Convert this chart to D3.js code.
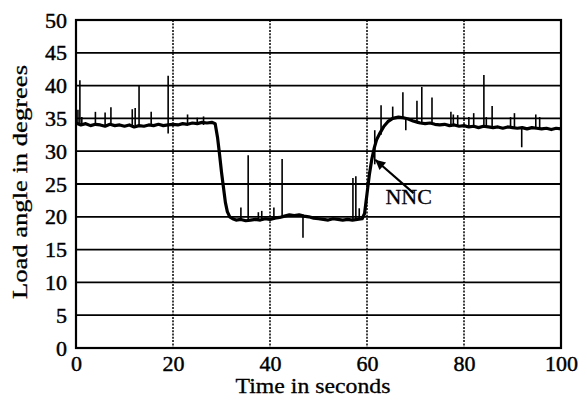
<!DOCTYPE html>
<html>
<head>
<meta charset="utf-8">
<script src="https://cdn.jsdelivr.net/npm/d3@7"></script>
<style>
  html, body { margin: 0; padding: 0; background: #fff; }
  svg { display: block; }
  text { font-family: "Liberation Serif", "Times New Roman", serif; fill: #000; }
</style>
</head>
<body>
<svg id="chart" width="587" height="400"></svg>
<script>
// ---- data ----
const xTicks = [0, 20, 40, 60, 80, 100];
const yTicks = [0, 5, 10, 15, 20, 25, 30, 35, 40, 45, 50];
const xLabel = "Time in seconds";
const yLabel = "Load angle in degrees";
const annotationText = "NNC";

// base trace: time (s) and load angle (deg)
const time = [
  0,1,2,3,4,5,6,7,8,9,10,11,12,13,14,15,16,17,18,19,20,21,22,23,24,25,26,27,28,
  28.7,29.2,29.6,30.0,30.4,30.8,31.2,31.7,32.3,33,
  34,35,36,37,38,39,40,41,42,43,44,45,46,47,48,49,50,51,52,53,54,55,56,57,58,59,
  59.5,60.0,60.5,61.0,61.5,62.0,62.7,63.5,64.3,65.3,66.5,67.5,68.5,69.5,70.5,
  71,72,73,74,75,76,77,78,79,80,81,82,83,84,85,86,87,88,89,90,91,92,93,94,95,96,97,98,99,100
];
const angle = [
  34.3,34.0,34.2,33.9,34.1,34.0,33.8,34.1,33.9,34.0,33.8,34.0,33.7,33.9,33.8,34.0,33.9,34.1,33.9,34.0,34.1,34.0,34.2,34.1,34.3,34.2,34.4,34.3,34.4,
  34.2,32.0,29.5,26.8,24.5,22.2,20.8,20.0,19.7,19.5,
  19.6,19.4,19.5,19.6,19.5,19.7,19.6,19.8,19.9,20.1,20.3,20.2,20.3,20.1,20.0,19.8,19.7,19.6,19.5,19.7,19.6,19.5,19.6,19.5,19.6,19.7,
  20.5,23.5,26.5,28.8,30.5,31.8,32.8,33.8,34.5,35.0,35.2,35.1,34.9,34.6,34.4,
  34.3,34.2,34.3,34.1,34.0,34.1,33.9,34.0,33.8,33.9,33.7,33.8,33.6,33.8,33.7,33.6,33.7,33.5,33.7,33.6,33.5,33.6,33.4,33.6,33.5,33.4,33.5,33.3,33.5,33.4
];

// short transient spikes: time, low end, high end
const spikeTime = [0.4,0.8,1.2,4.0,6.0,7.2,11.6,12.2,13.0,15.5,19.0,23.0,25.0,26.3,
  34.0,35.5,37.6,38.3,40.8,42.5,46.8,57.1,57.7,58.4,
  61.6,62.9,65.3,67.4,68.0,70.3,71.3,73.4,77.3,77.8,78.7,81.0,82.0,84.1,84.6,85.8,89.6,90.4,91.9,94.8,95.6];
const spikeLow = [34,34,34,34,34,34,34,34,34,34,32.7,34,34,34,
  19.5,19.5,19.5,19.5,19.5,19.8,16.8,19.6,19.6,19.6,
  28.0,32.5,34.8,35.0,33.2,34.4,34.3,34.2,33.9,33.9,33.9,33.7,33.7,33.8,33.8,33.6,33.6,33.6,30.6,33.5,33.4];
const spikeHigh = [36.3,40.8,35.2,36.0,35.9,36.7,36.4,36.6,40.0,36.0,41.5,35.6,35.1,35.3,
  21.4,29.4,20.7,20.9,21.4,28.8,20.3,25.9,26.2,21.3,
  33.2,37.0,36.8,39.0,35.0,37.7,39.8,38.2,36.0,35.6,35.5,35.2,35.8,41.6,35.2,36.9,35.2,35.8,33.5,35.6,35.2];

// annotation arrow: tail and head in data units
const arrowTail = [69.6, 23.6];
const arrowHead = [61.7, 28.7];
const annotationPos = [63.8, 21.9];

// ---- chart ----
const svg = d3.select("#chart");
const L = 76, R = 561, T = 20, B = 348;
const x = d3.scaleLinear().domain([0, 100]).range([L, R]);
const y = d3.scaleLinear().domain([0, 50]).range([B, T]);

// horizontal grid
svg.append("g").selectAll("line").data(yTicks.filter(v => v > 0 && v < 50)).join("line")
  .attr("x1", L).attr("x2", R).attr("y1", d => y(d)).attr("y2", d => y(d))
  .attr("stroke", "#000").attr("stroke-width", 1.8);
// vertical grid (dotted)
svg.append("g").selectAll("line").data(xTicks.filter(v => v > 0 && v < 100)).join("line")
  .attr("y1", T).attr("y2", B).attr("x1", d => x(d)).attr("x2", d => x(d))
  .attr("stroke", "#000").attr("stroke-width", 1.5).attr("stroke-dasharray", "2,1.3");

// frame
svg.append("rect").attr("x", L).attr("y", T).attr("width", R - L).attr("height", B - T)
  .attr("fill", "none").attr("stroke", "#000").attr("stroke-width", 2.2);

// axes (labels only)
const xAxis = d3.axisBottom(x).tickValues(xTicks).tickSize(0).tickPadding(7);
const gx = svg.append("g").attr("transform", `translate(0,${B})`).call(xAxis);
gx.select(".domain").remove();
gx.selectAll("text").attr("font-size", 22).attr("font-family", "Liberation Serif")
  .attr("stroke", "#000").attr("stroke-width", 0.45);

const yAxis = d3.axisLeft(y).tickValues(yTicks).tickSize(0).tickPadding(9);
const gy = svg.append("g").attr("transform", `translate(${L},0)`).call(yAxis);
gy.select(".domain").remove();
gy.selectAll("text").attr("font-size", 22).attr("font-family", "Liberation Serif")
  .attr("stroke", "#000").attr("stroke-width", 0.45);

// axis titles
svg.append("text").attr("x", 313).attr("y", 393).attr("text-anchor", "middle")
  .attr("font-size", 21).attr("textLength", 155).attr("lengthAdjust", "spacingAndGlyphs")
  .attr("stroke", "#000").attr("stroke-width", 0.3).text(xLabel);
svg.append("text").attr("transform", `translate(27,182) rotate(-90)`)
  .attr("text-anchor", "middle").attr("font-size", 22)
  .attr("textLength", 234).attr("lengthAdjust", "spacingAndGlyphs")
  .attr("stroke", "#000").attr("stroke-width", 0.3).text(yLabel);

// spikes
svg.append("g").selectAll("line").data(spikeTime.map((t, i) => [t, spikeLow[i], spikeHigh[i]])).join("line")
  .attr("x1", d => x(d[0])).attr("x2", d => x(d[0]))
  .attr("y1", d => y(d[1])).attr("y2", d => y(d[2]))
  .attr("stroke", "#000").attr("stroke-width", 1.6);

// main trace
const line = d3.line().x(d => x(d[0])).y(d => y(d[1]));
svg.append("path").datum(time.map((t, i) => [t, angle[i]]))
  .attr("d", line).attr("fill", "none").attr("stroke", "#000")
  .attr("stroke-width", 3.2).attr("stroke-linejoin", "round");

// annotation arrow
svg.append("defs").append("marker").attr("id", "ah")
  .attr("viewBox", "0 0 10 10").attr("refX", 10).attr("refY", 5)
  .attr("markerWidth", 13).attr("markerHeight", 10).attr("markerUnits", "userSpaceOnUse")
  .attr("orient", "auto")
  .append("path").attr("d", "M0,0 L10,5 L0,10 z").attr("fill", "#000");
svg.append("line")
  .attr("x1", x(arrowTail[0])).attr("y1", y(arrowTail[1]))
  .attr("x2", x(arrowHead[0])).attr("y2", y(arrowHead[1]))
  .attr("stroke", "#000").attr("stroke-width", 2.2).attr("marker-end", "url(#ah)");
svg.append("text").attr("x", x(annotationPos[0])).attr("y", y(annotationPos[1]))
  .attr("font-size", 22).attr("stroke", "#000").attr("stroke-width", 0.3).text(annotationText);
</script>
</body>
</html>
